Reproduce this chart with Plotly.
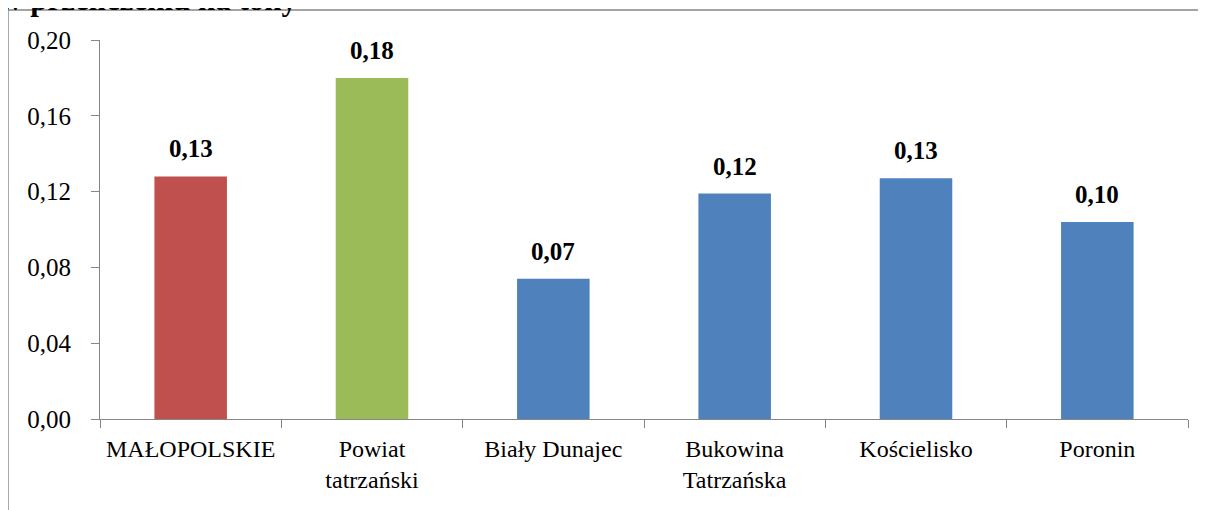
import plotly.graph_objects as go

# data
categories = ["MAŁOPOLSKIE", "Powiat<br>tatrzański", "Biały Dunajec",
              "Bukowina<br>Tatrzańska", "Kościelisko", "Poronin"]
values = [0.128, 0.180, 0.074, 0.119, 0.127, 0.104]
labels = ["0,13", "0,18", "0,07", "0,12", "0,13", "0,10"]
bar_colors = ["#C0504D", "#9BBB59", "#4F81BD", "#4F81BD", "#4F81BD", "#4F81BD"]
y_ticks = [0.0, 0.04, 0.08, 0.12, 0.16, 0.20]
y_ticktext = ["0,00", "0,04", "0,08", "0,12", "0,16", "0,20"]

FONT = "Liberation Serif"

fig = go.Figure()

fig.add_trace(go.Bar(x=categories, y=values,
                     marker=dict(color=bar_colors, line=dict(width=0)),
                     width=0.4,
                     showlegend=False))

# value labels sit a bit higher above the bars than plotly's "outside" text
for cat, val, lab in zip(categories, values, labels):
    fig.add_annotation(x=cat, y=val, text="<b>" + lab + "</b>",
                       showarrow=False, yanchor="bottom", yshift=12,
                       font=dict(family=FONT, size=25, color="black"))

# page body adds 8px, so margins are 8px smaller than the measured positions
fig.update_layout(width=1206, height=510,
                  margin=dict(l=92, r=26, t=32, b=99),
                  paper_bgcolor="white", plot_bgcolor="white",
                  font=dict(family=FONT, size=24, color="black"),
                  bargap=0.6)

fig.update_yaxes(range=[0, 0.2], tickvals=y_ticks, ticktext=y_ticktext,
                 showgrid=False, zeroline=False,
                 showline=True, linecolor="#868686", linewidth=1,
                 ticks="outside", ticklen=8, tickcolor="#868686",
                 tickfont=dict(family=FONT, size=25), ticklabelstandoff=15)

fig.update_xaxes(showgrid=False, showline=True, linecolor="#868686", linewidth=1,
                 ticks="outside", ticklen=8, tickcolor="#868686",
                 tickson="boundaries",
                 tickfont=dict(family=FONT, size=24), tickangle=0,
                 ticklabelstandoff=8)

# chart frame (cut off at right and bottom in the reference)
fig.add_shape(type="rect", xref="paper", yref="paper",
              x0=-0.0846, x1=1.05, y0=-0.3, y1=1.079,
              line=dict(color="#868686", width=1.5))

# cut-off title at the very top
fig.add_annotation(text="<b>w przeliczeniu na tony</b>", xref="paper", yref="paper",
                   x=-0.094, y=1.108, xanchor="left", yanchor="middle",
                   showarrow=False, font=dict(family=FONT, size=31, color="black"))

fig.write_html("out.html")
